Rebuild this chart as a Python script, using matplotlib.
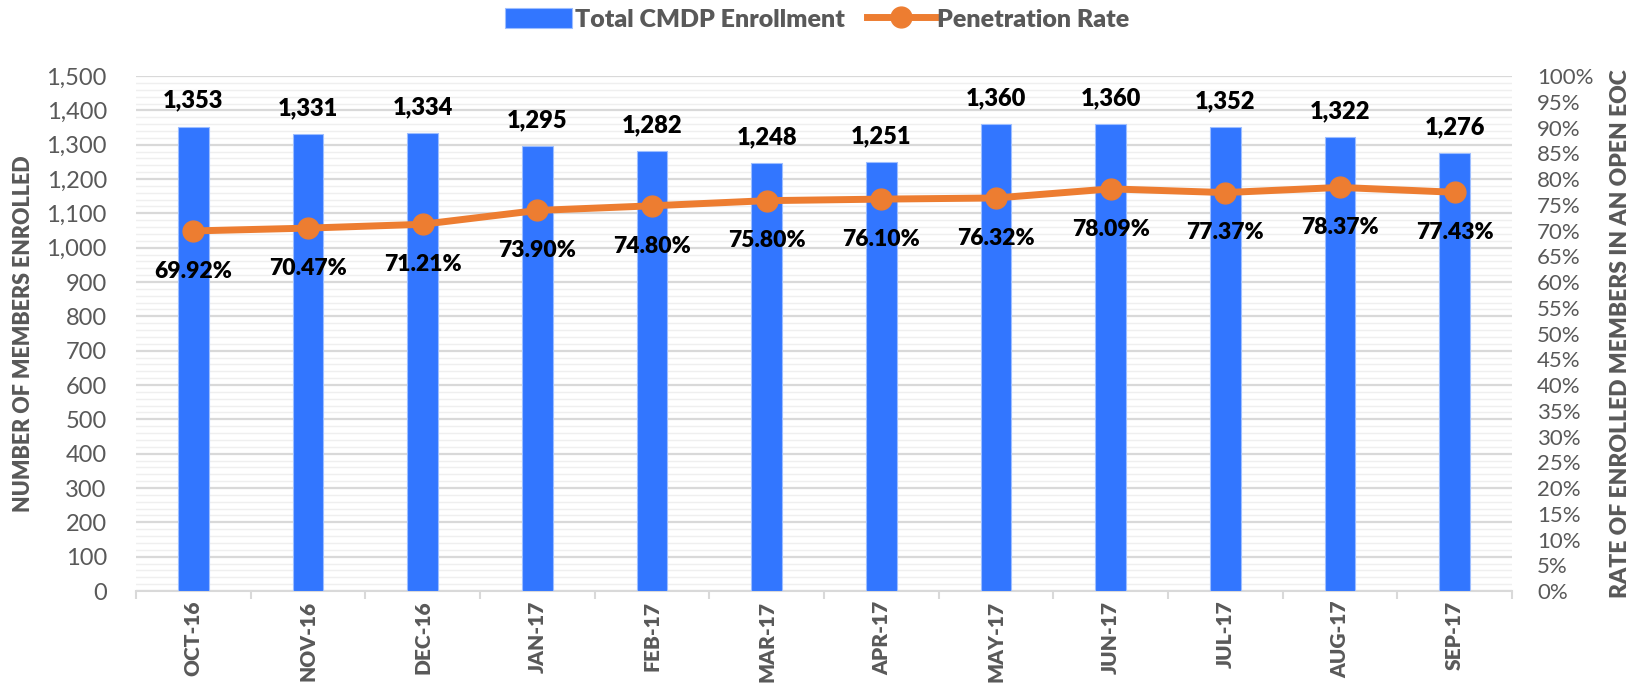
import matplotlib.pyplot as plt
from matplotlib.ticker import MultipleLocator, FuncFormatter
import numpy as np

# data ================================
months = ["OCT-16", "NOV-16", "DEC-16", "JAN-17", "FEB-17", "MAR-17",
          "APR-17", "MAY-17", "JUN-17", "JUL-17", "AUG-17", "SEP-17"]
enrollment = [1353, 1331, 1334, 1295, 1282, 1248, 1251, 1360, 1360, 1352, 1322, 1276]
penetration = [69.92, 70.47, 71.21, 73.90, 74.80, 75.80, 76.10, 76.32, 78.09, 77.37, 78.37, 77.43]
# =====================================

BLUE = '#3276FF'
ORANGE = '#ED7D31'
GRAY = '#595959'
HEAVY = 'heavy'

plt.rcParams['font.family'] = ['Lato', 'DejaVu Sans']

fig = plt.figure(figsize=(16.34, 6.85), dpi=100)
ax = fig.add_axes([0.0832, 0.1372, 0.8421, 0.7518])
ax2 = ax.twinx()

x = np.arange(len(months))
bars = ax.bar(x, enrollment, width=0.267, color=BLUE, edgecolor='#9DBEFF',
              linewidth=0.8, zorder=3, label='Total CMDP Enrollment')
line, = ax2.plot(x, penetration, color=ORANGE, lw=5, marker='o', ms=15,
                 zorder=4, label='Penetration Rate')

ax.set_xlim(-0.5, len(months) - 0.5)
ax.set_ylim(0, 1500)
ax2.set_ylim(0, 100)

# gridlines: major every 100, minor every 20
ax.yaxis.set_major_locator(MultipleLocator(100))
ax.yaxis.set_minor_locator(MultipleLocator(20))
ax.grid(axis='y', which='major', color='#D9D9D9', lw=1.6, zorder=0)
ax.grid(axis='y', which='minor', color='#EFEFEF', lw=1.0, zorder=0)
ax.set_axisbelow(True)
ax.yaxis.set_major_formatter(FuncFormatter(lambda v, p: f"{int(v):,}"))
ax.tick_params(axis='y', which='both', length=0, labelsize=17, labelcolor=GRAY, pad=21)

ax2.yaxis.set_major_locator(MultipleLocator(5))
ax2.yaxis.set_major_formatter(FuncFormatter(lambda v, p: f"{int(v)}%"))
ax2.tick_params(axis='y', length=0, labelsize=16, labelcolor=GRAY, pad=18)

# x axis: ticks at category edges, labels at centres
ax.set_xticks(np.arange(-0.5, len(months), 1))
ax.set_xticklabels([])
ax.set_xticks(x, minor=True)
ax.set_xticklabels(months, minor=True, rotation=90, fontsize=15,
                   fontweight=HEAVY, color=GRAY)
ax.tick_params(axis='x', which='major', length=6, color='#D9D9D9', width=1.5)
ax.tick_params(axis='x', which='minor', length=0, pad=7)

for a in (ax, ax2):
    for side in ('top', 'left', 'right', 'bottom'):
        a.spines[side].set_visible(False)
ax.spines['bottom'].set_visible(True)
ax.spines['bottom'].set_color('#D9D9D9')
ax.spines['bottom'].set_linewidth(1.5)

ax.set_ylabel('NUMBER OF MEMBERS ENROLLED', fontsize=15.5, fontweight=HEAVY,
              color=GRAY, labelpad=9)
ax2.set_ylabel('RATE OF ENROLLED MEMBERS IN AN OPEN EOC', fontsize=16.5,
               fontweight=HEAVY, color=GRAY, labelpad=12)

# data labels
for xi, v in zip(x, enrollment):
    ax.annotate(f"{v:,}", (xi, v), xytext=(0, 18.5), textcoords='offset points',
                ha='center', va='center', fontsize=17, fontweight=HEAVY, color='black')
for xi, v in zip(x, penetration):
    ax2.annotate(f"{v:.2f}%", (xi, v), xytext=(0, -29), textcoords='offset points',
                 ha='center', va='center', fontsize=16.5, fontweight=HEAVY,
                 color='black', zorder=5)

fig.legend([bars, line], ['Total CMDP Enrollment', 'Penetration Rate'],
           loc='center', bbox_to_anchor=(0.5, 0.972), ncol=2, frameon=False,
           prop={'size': 18, 'weight': HEAVY}, labelcolor=GRAY,
           handlelength=2.7, handleheight=0.9, handletextpad=0.1, columnspacing=0.9)

plt.savefig('out.png', dpi=100)
